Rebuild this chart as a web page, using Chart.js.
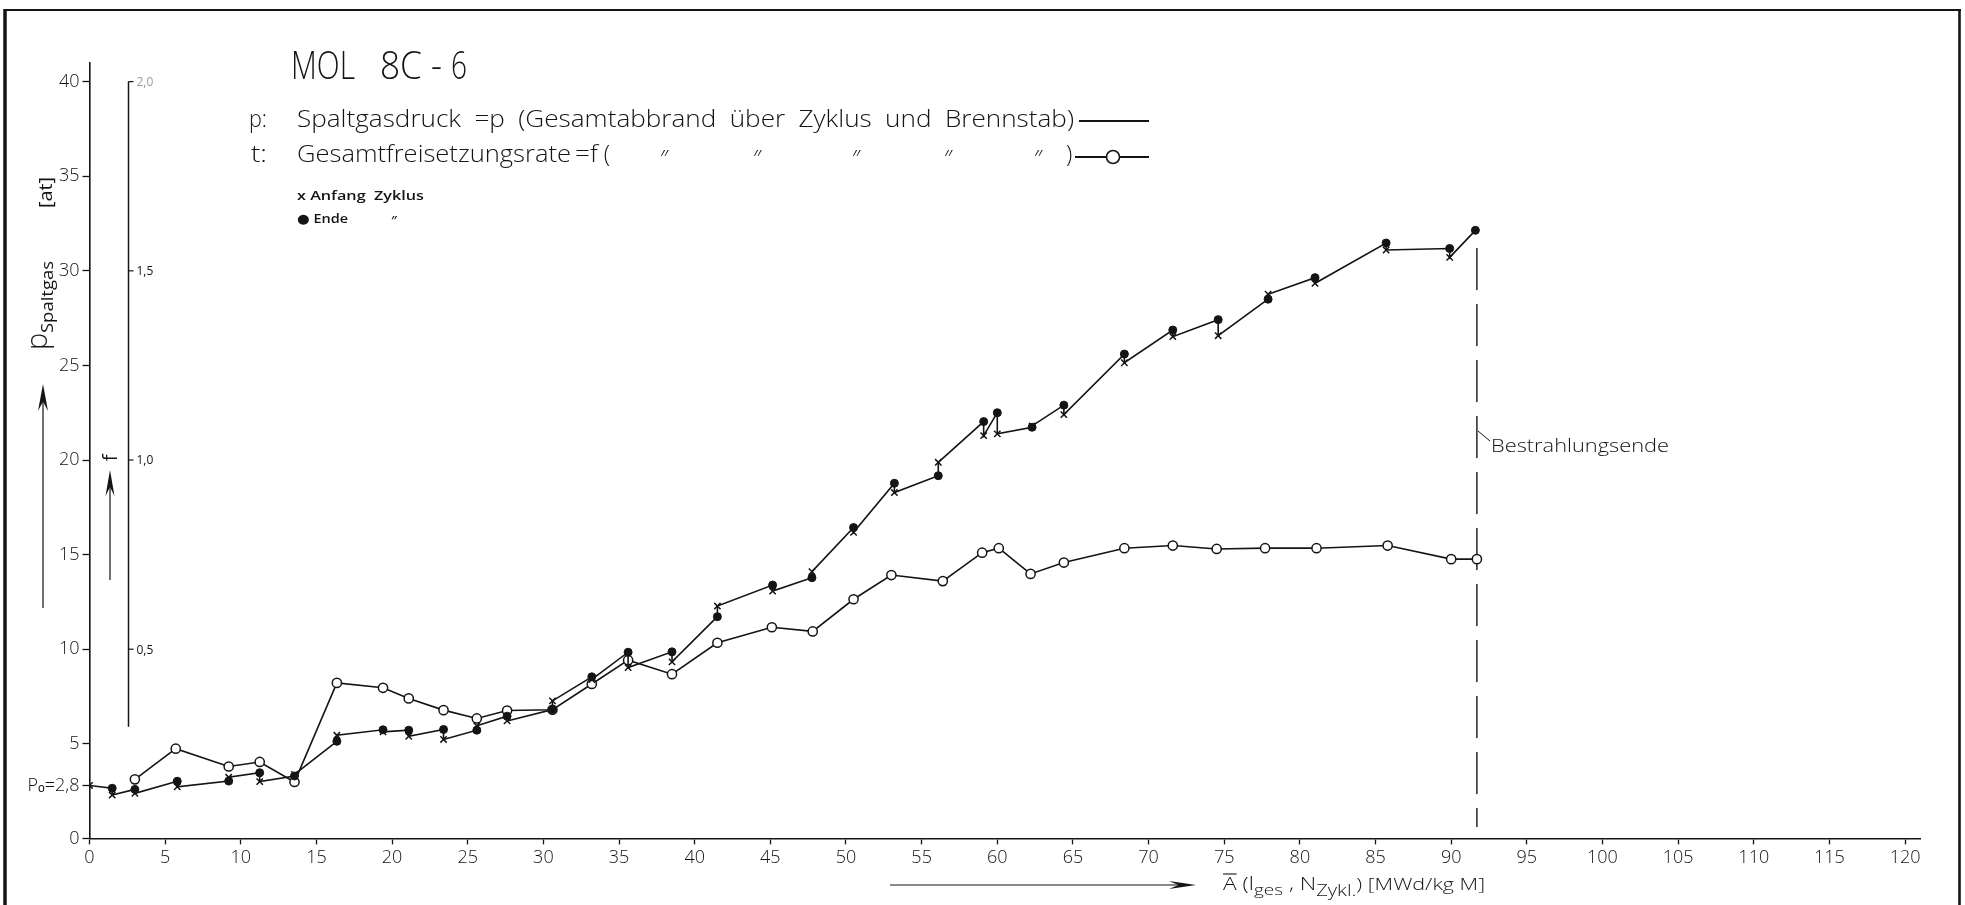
<!DOCTYPE html>
<html><head><meta charset="utf-8">
<script src="https://cdn.jsdelivr.net/npm/chart.js@4.4.1/dist/chart.umd.min.js"></script>
<style>html,body{margin:0;padding:0;background:#fff;overflow:hidden}canvas{display:block}</style>
</head><body>
<canvas id="c" width="1965" height="905"></canvas>
<script>
// ---------------- data ----------------
// burnup at each cycle boundary [MWd/kg M]
const burnup = [0, 1.5, 3.0, 5.8, 9.2, 11.25, 13.55, 16.35, 19.4, 21.1, 23.4, 25.6, 27.6, 30.6, 33.2, 35.6, 38.5, 41.5, 45.15, 47.75, 50.5, 53.2, 56.1, 59.1, 60.0, 62.3, 64.4, 68.4, 71.6, 74.6, 77.9, 81.0, 85.7, 89.9, 91.6];
// p at start of cycle (x)
const pStart = [2.8, 2.29, 2.38, 2.73, 3.23, 3.0, 3.38, 5.45, 5.63, 5.4, 5.23, 5.95, 6.21, 7.27, 8.4, 9.03, 9.33, 12.28, 13.07, 14.1, 16.18, 18.28, 19.88, 21.29, 21.38, 21.8, 22.4, 25.14, 26.52, 26.57, 28.76, 29.34, 31.1, 30.71, null];
// p at end of cycle (filled dot)
const pEnd = [null, 2.65, 2.59, 3.02, 3.03, 3.47, 3.30, 5.13, 5.74, 5.72, 5.76, 5.72, 6.46, 6.81, 8.54, 9.84, 9.86, 11.72, 13.39, 13.78, 16.43, 18.77, 19.17, 22.03, 22.5, 21.73, 22.9, 25.6, 26.87, 27.42, 28.5, 29.64, 31.47, 31.18, 32.14];
// total release rate f (open circles), right scale
const burnupF = [3.0, 5.7, 9.2, 11.25, 13.55, 16.35, 19.4, 21.1, 23.4, 25.6, 27.6, 30.6, 33.2, 35.6, 38.5, 41.5, 45.1, 47.8, 50.5, 53.0, 56.4, 59.0, 60.1, 62.2, 64.4, 68.4, 71.6, 74.5, 77.7, 81.1, 85.8, 90.0, 91.7];
const fRate = [0.156, 0.237, 0.19, 0.202, 0.149, 0.411, 0.398, 0.37, 0.339, 0.317, 0.338, 0.34, 0.408, 0.471, 0.434, 0.517, 0.558, 0.547, 0.632, 0.696, 0.68, 0.755, 0.767, 0.699, 0.729, 0.767, 0.774, 0.765, 0.767, 0.767, 0.774, 0.738, 0.738];
// end of irradiation marker
const endBurnup = 91.7;
const endLineRange = [31.2, 0.6];
// ticks
const xTicks = [0,5,10,15,20,25,30,35,40,45,50,55,60,65,70,75,80,85,90,95,100,105,110,115,120];
const yTicks = [0, 2.8, 5, 10, 15, 20, 25, 30, 35, 40];
const fTicks = [0.5, 1.0, 1.5, 2.0];
const fTickLabels = ['0,5', '1,0', '1,5', '2,0'];
const fAxisRange = [0.295, 2.0];

// ---------------- build datasets ----------------
const pLine = [];
burnup.forEach((a, i) => {
  if (pEnd[i] !== null) pLine.push({x: a, y: pEnd[i]});
  if (pStart[i] !== null) pLine.push({x: a, y: pStart[i]});
});
const startPts = burnup.map((a, i) => ({x: a, y: pStart[i]})).filter(p => p.y !== null);
const endPts = burnup.map((a, i) => ({x: a, y: pEnd[i]})).filter(p => p.y !== null);
const fPts = burnupF.map((a, i) => ({x: a, y: fRate[i]}));

const INK = '#141414';
const FONT = "'Open Sans', 'DejaVu Sans', sans-serif";

function fitText(ctx, s, x, y, size, w, weight) {
  ctx.font = `${weight || 400} ${size}px ${FONT}`;
  const nat = ctx.measureText(s).width;
  ctx.save(); ctx.translate(x, y);
  if (w) ctx.scale(w / nat, 1);
  ctx.textAlign = 'left'; ctx.textBaseline = 'alphabetic';
  ctx.fillText(s, 0, 0);
  ctx.restore();
  return w || nat;
}
function justify(ctx, words, x0, x1, y, size, sx, weight) {
  ctx.font = `${weight} ${size}px ${FONT}`;
  const ws = words.map(w => ctx.measureText(w).width * sx);
  const gap = (x1 - x0 - ws.reduce((a, b) => a + b, 0)) / (words.length - 1);
  let x = x0;
  words.forEach((w, i) => { fitText(ctx, w, x, y, size, ws[i], weight); x += ws[i] + gap; });
}
function line(ctx, x1, y1, x2, y2) { ctx.beginPath(); ctx.moveTo(x1, y1); ctx.lineTo(x2, y2); ctx.stroke(); }
function arrowUp(ctx, x, yBottom, yTip, headLen, halfW) {
  line(ctx, x, yBottom, x, yTip + headLen * 0.6);
  ctx.beginPath(); ctx.moveTo(x, yTip); ctx.lineTo(x - halfW, yTip + headLen); ctx.lineTo(x, yTip + headLen * 0.65); ctx.lineTo(x + halfW, yTip + headLen); ctx.closePath(); ctx.fill();
}
function arrowRight(ctx, xStart, xTip, y, headLen, halfW) {
  line(ctx, xStart, y, xTip - headLen * 0.6, y);
  ctx.beginPath(); ctx.moveTo(xTip, y); ctx.lineTo(xTip - headLen, y - halfW); ctx.lineTo(xTip - headLen * 0.65, y); ctx.lineTo(xTip - headLen, y + halfW); ctx.closePath(); ctx.fill();
}

const deco = {
  id: 'deco',
  afterDraw(chart) {
    const ctx = chart.ctx;
    const xs = chart.scales.x, fs = chart.scales.y2;
    ctx.save();
    ctx.strokeStyle = INK; ctx.fillStyle = INK; ctx.lineCap = 'butt';
    // frame
    ctx.lineWidth = 3.5; line(ctx, 5, 9, 5, 905);
    ctx.lineWidth = 2.2; line(ctx, 4, 10, 1961, 10);
    ctx.lineWidth = 2.6; line(ctx, 1959.5, 9, 1959.5, 905);

    // secondary f axis (values through y2 scale)
    const fx = xs.left + 39;
    ctx.lineWidth = 1.5;
    line(ctx, fx, fs.getPixelForValue(fAxisRange[1]), fx, fs.getPixelForValue(fAxisRange[0]));
    ctx.lineWidth = 1.2;
    fTicks.forEach((v, i) => {
      const y = fs.getPixelForValue(v);
      line(ctx, fx, y, fx + 5, y);
      ctx.fillStyle = v === 2.0 ? '#9a9a9a' : INK;
      ctx.font = `400 12px ${FONT}`; ctx.textBaseline = 'middle'; ctx.textAlign = 'left';
      ctx.fillText(fTickLabels[i], fx + 8, y + 1);
    });
    ctx.fillStyle = INK;

    // f arrow + label
    ctx.lineWidth = 1.2;
    arrowUp(ctx, 110, 580, 470, 26, 4.5);
    ctx.save(); ctx.translate(117, 458); ctx.rotate(-Math.PI / 2);
    ctx.font = `400 20px ${FONT}`; ctx.textAlign = 'center'; ctx.textBaseline = 'alphabetic';
    ctx.fillText('f', 0, 0); ctx.restore();

    // p title (rotated)
    arrowUp(ctx, 43, 608, 384, 27, 5);
    ctx.save(); ctx.rotate(-Math.PI / 2);
    ctx.textBaseline = 'alphabetic'; ctx.textAlign = 'left';
    ctx.font = `300 29px ${FONT}`; ctx.fillText('p', -350, 47);
    ctx.font = `400 16px ${FONT}`;
    ctx.save(); ctx.translate(-333, 53); ctx.scale(72 / ctx.measureText('Spaltgas').width, 1); ctx.fillText('Spaltgas', 0, 0); ctx.restore();
    ctx.font = `400 18px ${FONT}`;
    ctx.save(); ctx.translate(-208, 52); ctx.scale(31 / ctx.measureText('[at]').width, 1); ctx.fillText('[at]', 0, 0); ctx.restore();
    ctx.restore();

    // title
    fitText(ctx, 'MOL', 291, 79, 38, 64, 300);
    fitText(ctx, '8C', 380, 79, 38, 42, 300);
    fitText(ctx, '-', 431, 79, 38, 11, 300);
    fitText(ctx, '6', 451, 79, 38, 16, 300);

    // legend line 1
    const size = 23, W = 300;
    ctx.font = `${W} ${size}px ${FONT}`;
    const sx = 164 / ctx.measureText('Spaltgasdruck').width;
    fitText(ctx, 'p:', 249, 127, size, 18, W);
    justify(ctx, ['Spaltgasdruck', '=p', '(Gesamtabbrand', 'über', 'Zyklus', 'und', 'Brennstab)'], 297, 1074, 127, size, sx, W);
    ctx.lineWidth = 1.8; line(ctx, 1079, 121, 1149, 121);
    // legend line 2
    fitText(ctx, 't:', 251, 162, size, 16, W);
    let x2 = 297;
    ctx.font = `${W} ${size}px ${FONT}`;
    x2 += fitText(ctx, 'Gesamtfreisetzungsrate', x2, 162, size, 274, W) + 4;
    ctx.font = `${W} ${size}px ${FONT}`;
    x2 += fitText(ctx, '=f', x2, 162, size, ctx.measureText('=f').width * sx, W) + 6;
    fitText(ctx, '(', x2, 162, size, null, W);
    [660, 753, 852, 944, 1034].forEach(dx => fitText(ctx, '\u2033', dx, 167, size, null, W));
    fitText(ctx, ')', 1066, 162, size, null, W);
    ctx.lineWidth = 1.8; line(ctx, 1075, 157, 1149, 157);
    ctx.beginPath(); ctx.arc(1113, 157, 6.5, 0, Math.PI * 2); ctx.fillStyle = '#fff'; ctx.fill(); ctx.lineWidth = 1.6; ctx.stroke();
    ctx.fillStyle = INK;

    // small marker legend
    fitText(ctx, 'x Anfang  Zyklus', 297, 200, 13, 127, 600);
    fitText(ctx, '\u25CF Ende', 297, 223, 13, 51, 600);
    fitText(ctx, '\u2033', 391, 225, 13, null, 600);

    // Bestrahlungsende
    ctx.lineWidth = 1;
    line(ctx, 1478, 431, 1490, 441);
    fitText(ctx, 'Bestrahlungsende', 1491, 452, 19, 178, 300);

    // x-axis title
    ctx.lineWidth = 1.2;
    arrowRight(ctx, 890, 1196, 885, 27, 4);
    {
      const parts = [['A', 18, 0], [' (l', 18, 0], ['ges', 15, 5], [' , N', 18, 0], ['Zykl.', 16, 6], [') [MWd/kg M]', 17, 0]];
      let tot = 0;
      parts.forEach(p => { ctx.font = `300 ${p[1]}px ${FONT}`; p.w = ctx.measureText(p[0]).width; tot += p.w; });
      const k = 262 / tot;
      let x = 1223;
      parts.forEach((p, i) => {
        fitText(ctx, p[0], x, 890 + p[2], p[1], p.w * k, 300);
        if (i === 0) { ctx.lineWidth = 1.1; line(ctx, x, 874, x + p.w * k, 874); }
        x += p.w * k;
      });
    }
    ctx.restore();
  }
};

new Chart(document.getElementById('c'), {
  type: 'line',
  data: {
    datasets: [
      { label: 'p Ende', data: endPts, showLine: false, pointStyle: 'circle', pointRadius: 4, borderWidth: 1, borderColor: INK, pointBackgroundColor: INK, order: 0 },
      { label: 'p Anfang', data: startPts, showLine: false, pointStyle: 'crossRot', pointRadius: 4.5, pointBorderWidth: 1.5, borderColor: INK, pointBorderColor: INK, order: 1 },
      { label: 'p', data: pLine, borderColor: INK, borderWidth: 1.6, pointRadius: 0, order: 2 },
      { label: 'f', data: fPts, yAxisID: 'y2', borderColor: INK, borderWidth: 1.6, pointRadius: 4.6, pointBorderWidth: 1.5, pointBackgroundColor: '#fff', pointBorderColor: INK, order: 3 },
      { label: 'Bestrahlungsende', data: [{x: endBurnup, y: endLineRange[0]}, {x: endBurnup, y: endLineRange[1]}], borderColor: INK, borderWidth: 1.4, borderDash: [42, 14], pointRadius: 0, order: 4 }
    ]
  },
  options: {
    responsive: false, animation: false, devicePixelRatio: 1, events: [],
    layout: { padding: { left: 0, top: 62.7, right: 44.8, bottom: 0 } },
    plugins: { legend: { display: false }, tooltip: { enabled: false } },
    scales: {
      x: {
        type: 'linear', min: 0, max: 121, position: 'bottom',
        afterBuildTicks: s => { s.ticks = xTicks.map(v => ({ value: v })); },
        afterFit: s => { s.height = 66.6; },
        ticks: { color: INK, font: { family: FONT, size: 18, weight: 300 }, padding: 3, maxRotation: 0, autoSkip: false, callback: v => String(v) },
        grid: { display: true, drawOnChartArea: false, drawTicks: true, tickLength: 6, tickWidth: 1.3, tickColor: INK },
        border: { display: true, color: INK, width: 1.6 }
      },
      y: {
        type: 'linear', min: 0, max: 41, position: 'left',
        afterBuildTicks: s => { s.ticks = yTicks.map(v => ({ value: v })); },
        afterFit: s => { s.width = 89.5; },
        ticks: { color: INK, font: { family: FONT, size: 18, weight: 300 }, padding: 3, autoSkip: false, callback: v => v === 2.8 ? 'P\u2092=2,8' : String(v) },
        grid: { display: true, drawOnChartArea: false, drawTicks: true, tickLength: 7, tickWidth: 1.3, tickColor: INK },
        border: { display: true, color: INK, width: 1.6 }
      },
      y2: { type: 'linear', min: 0, max: 2.05, display: false }
    }
  },
  plugins: [deco]
});
</script>
</body></html>
